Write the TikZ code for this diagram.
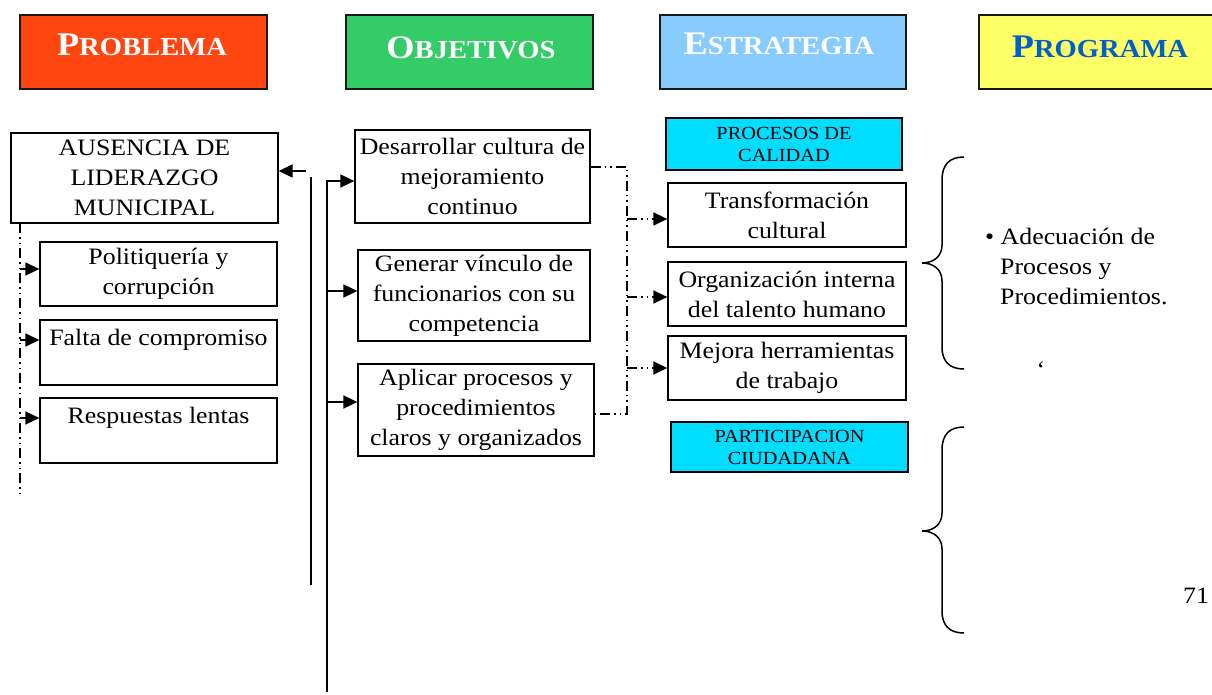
\documentclass[tikz,border=0pt]{standalone}
\usepackage{fontspec}
\setmainfont{Liberation Serif}[FakeStretch=1.1]
\usetikzlibrary{arrows.meta}
\definecolor{cprob}{HTML}{FF4510}
\definecolor{cobj}{HTML}{33CC66}
\definecolor{cest}{HTML}{87CBFF}
\definecolor{cprog}{HTML}{FFFF66}
\definecolor{cprogtxt}{HTML}{0060C8}
\definecolor{ccyan}{HTML}{00DDFF}
\newcommand\bodyfont{\fontsize{23.5}{30}\selectfont}
\newcommand\smallfnt{\fontsize{18.5}{22}\selectfont}
\newcommand\hdr[2]{\bfseries{\fontsize{33}{33}\selectfont #1}{\fontsize{26}{26}\selectfont #2}}
\begin{document}
\begin{tikzpicture}[x=1pt,y=-1pt,
  hbox/.style={draw=black!90, line width=2pt, inner sep=0pt, minimum height=74pt},
  htxt/.style={inner sep=0pt},
  box/.style={draw, line width=1.3pt, inner sep=0pt, align=center, font=\bodyfont},
  cbox/.style={draw, line width=1.3pt, fill=ccyan, inner sep=0pt, align=center, font=\smallfnt},
  txt/.style={inner sep=0pt, align=center, font=\bodyfont},
  arr/.style={-{Triangle[length=14pt,width=13pt]}},
  solidline/.style={line width=1.8pt},
  dd/.style={line width=1.5pt, dash pattern=on 10pt off 4pt on 1.5pt off 4pt on 1.5pt off 4pt},
  brace/.style={line width=1.5pt}]
\useasboundingbox (0,0) rectangle (1212,695);

% headers
\node[hbox, fill=cprob, minimum width=247pt] (hprob) at (143.5,52) {};
\node[hbox, fill=cobj, minimum width=247pt] (hobj) at (469.5,52) {};
\node[hbox, fill=cest, minimum width=246pt] (hest) at (783,52) {};
\node[hbox, fill=cprog, minimum width=240pt] (hprog) at (1099,52) {};
\node[htxt, text=white] (tprob) at (142,45) {\hdr{P}{ROBLEMA}};
\node[htxt, text=white] (tobj) at (471,48) {\hdr{O}{BJETIVOS}};
\node[htxt, text=white] (test) at (779,44) {\hdr{E}{STRATEGIA}};
\node[htxt, text=cprogtxt] (tprog) at (1100,47) {\hdr{P}{ROGRAMA}};

% problem column
\node[box, minimum width=267pt, minimum height=90pt] (aus) at (144.5,178) {AUSENCIA DE\\LIDERAZGO\\MUNICIPAL};
\node[box, minimum width=237pt, minimum height=64pt] (pol) at (158.5,274) {Politiquería y\\corrupción};
\node[box, minimum width=237pt, minimum height=65pt] (fal) at (158.5,352.5) {};
\node[txt] (falt) at (158.5,340) {Falta de compromiso};
\node[box, minimum width=237pt, minimum height=65pt] (res) at (158.5,430.5) {};
\node[txt] (rest) at (158.5,418) {Respuestas lentas};

% objectives column
\node[box, minimum width=235pt, minimum height=93pt] (des) at (472.5,176.5) {Desarrollar cultura de\\mejoramiento\\continuo};
\node[box, minimum width=232pt, minimum height=91pt] (gen) at (474,295.5) {Generar vínculo de\\funcionarios con su\\competencia};
\node[box, minimum width=236pt, minimum height=92pt] (apl) at (476,410) {Aplicar procesos y\\procedimientos\\claros y organizados};

% strategy column
\node[cbox, minimum width=236pt, minimum height=52pt] (pro) at (784,144) {PROCESOS DE\\CALIDAD};
\node[box, minimum width=238pt, minimum height=64pt] (tra) at (787,215) {Transformación\\cultural};
\node[box, minimum width=238pt, minimum height=64pt] (org) at (787,294) {Organización interna\\del talento humano};
\node[box, minimum width=238pt, minimum height=64pt] (mej) at (787,368) {Mejora herramientas\\de trabajo};
\node[cbox, minimum width=237pt, minimum height=50pt] (par) at (789.5,447) {PARTICIPACION\\CIUDADANA};

% programme text
\node[inner sep=0pt, anchor=west, align=left, font=\bodyfont] (ade) at (985,266)
  {\textbullet\ Adecuación de\\\hspace*{15pt}Procesos y\\\hspace*{15pt}Procedimientos.};
\node[inner sep=0pt, font=\bodyfont] (qm) at (1041,370) {‘};
\node[inner sep=0pt, font=\bodyfont] (pg) at (1196,596) {71};

% left dash-dot connector
\coordinate (lt) at (20,223);
\coordinate (lb) at (20,497);
\draw[dd] (lt) -- (lb);
\draw[dd, arr] ([yshift=5pt]lt |- pol.west) -- ([yshift=5pt]pol.west);
\draw[dd, arr] (lt |- falt.west) -- (fal.west |- falt.west);
\draw[dd, arr] (lt |- rest.west) -- (res.west |- rest.west);

% arrow into AUSENCIA and vertical lines
\coordinate (ain) at (306,171);
\draw[solidline, arr] (ain) -- (aus.east |- ain);
\coordinate (v1t) at (311,177);
\coordinate (v1b) at (311,585);
\draw[solidline] (v1t) -- (v1b);
\coordinate (v2t) at (327,181);
\coordinate (v2b) at (327,692);
\coordinate (a2) at (327,291);
\coordinate (a3) at (327,402);
\draw[solidline, arr] (v2b) -- (v2t) -- (des.west |- v2t);
\draw[solidline, arr] (a2) -- (gen.west |- a2);
\draw[solidline, arr] (a3) -- (apl.west |- a3);

% right dash-dot connector
\coordinate (r1) at (627,167);
\coordinate (r2) at (627,414);
\coordinate (b1) at (627,219);
\coordinate (b2) at (627,297);
\coordinate (b3) at (627,368);
\draw[dd] (des.east |- r1) -- (r1) -- (r2) -- (apl.east |- r2);
\draw[dd, arr] (b1) -- (tra.west |- b1);
\draw[dd, arr] (b2) -- (org.west |- b2);
\draw[dd, arr] (b3) -- (mej.west |- b3);

% braces
\draw[brace] (964,157) .. controls (950,157) and (942,164) .. (942,180)
  -- (942,245) .. controls (942,256) and (934,263) .. (922,263)
  .. controls (934,263) and (942,270) .. (942,281)
  -- (942,347) .. controls (942,362) and (950,369) .. (964,369);
\draw[brace] (964,427) .. controls (950,427) and (942,434) .. (942,450)
  -- (942,513) .. controls (942,524) and (934,531) .. (922,531)
  .. controls (934,531) and (942,538) .. (942,549)
  -- (942,611) .. controls (942,626) and (950,633) .. (964,633);
\end{tikzpicture}
\end{document}
